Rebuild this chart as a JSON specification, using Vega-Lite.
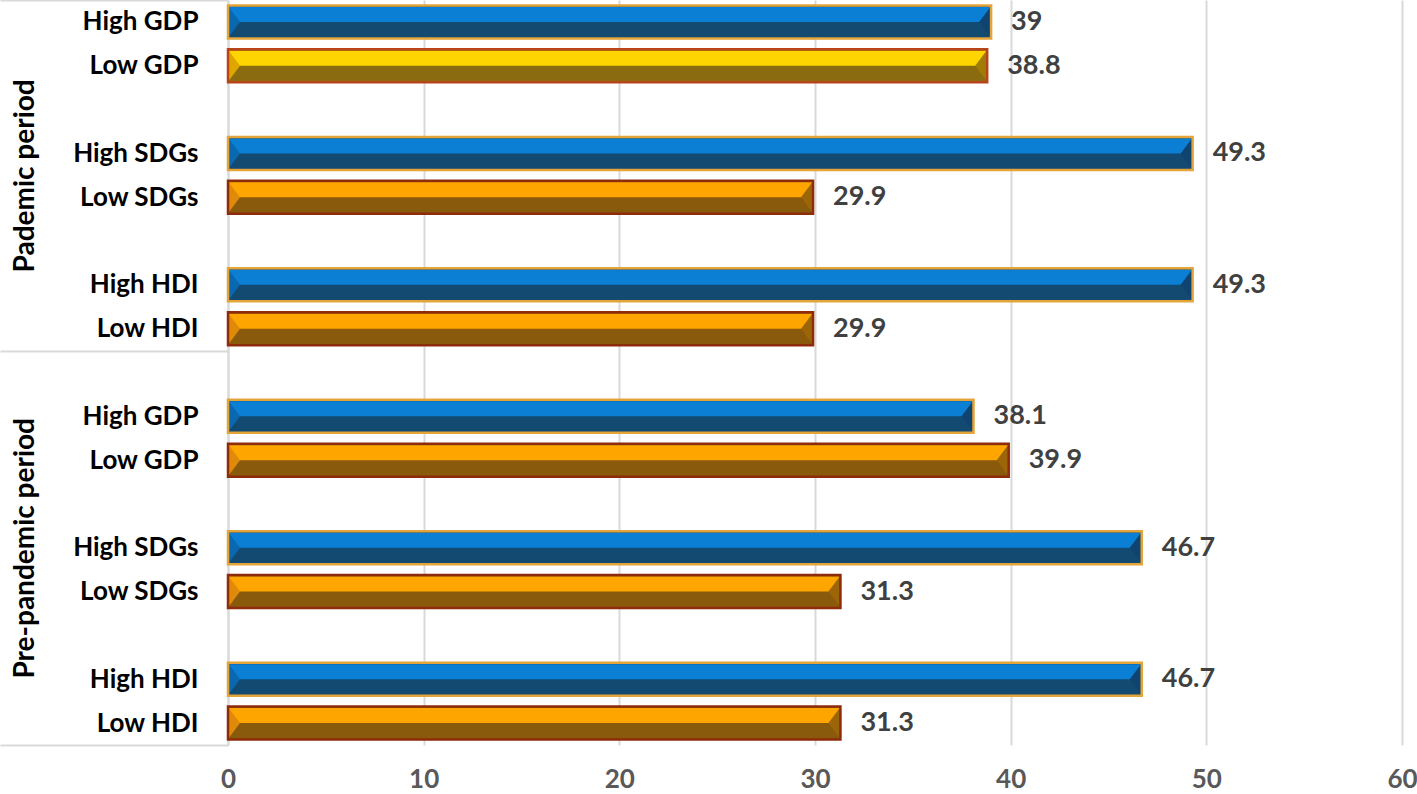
{
  "$schema": "https://vega.github.io/schema/vega-lite/v6.json",
  "width": 1174,
  "height": 745,
  "autosize": {"type": "none"},
  "padding": {"left": 228, "top": 0, "right": 15, "bottom": 49},
  "background": "white",
  "config": {"view": {"stroke": null}, "font": "Lato"},
  "data": {
    "values": [
      {"period": "Pademic period", "indicator": "GDP", "level": "High", "slot": "01|High GDP", "value": 39},
      {"period": "Pademic period", "indicator": "GDP", "level": "Low", "slot": "02|Low GDP", "value": 38.8},
      {"period": "Pademic period", "indicator": "SDGs", "level": "High", "slot": "04|High SDGs", "value": 49.3},
      {"period": "Pademic period", "indicator": "SDGs", "level": "Low", "slot": "05|Low SDGs", "value": 29.9},
      {"period": "Pademic period", "indicator": "HDI", "level": "High", "slot": "07|High HDI", "value": 49.3},
      {"period": "Pademic period", "indicator": "HDI", "level": "Low", "slot": "08|Low HDI", "value": 29.9},
      {"period": "Pre-pandemic period", "indicator": "GDP", "level": "High", "slot": "10|High GDP", "value": 38.1},
      {"period": "Pre-pandemic period", "indicator": "GDP", "level": "Low", "slot": "11|Low GDP", "value": 39.9},
      {"period": "Pre-pandemic period", "indicator": "SDGs", "level": "High", "slot": "13|High SDGs", "value": 46.7},
      {"period": "Pre-pandemic period", "indicator": "SDGs", "level": "Low", "slot": "14|Low SDGs", "value": 31.3},
      {"period": "Pre-pandemic period", "indicator": "HDI", "level": "High", "slot": "16|High HDI", "value": 46.7},
      {"period": "Pre-pandemic period", "indicator": "HDI", "level": "Low", "slot": "17|Low HDI", "value": 31.3}
    ]
  },
  "resolve": {"scale": {"y": "independent"}, "axis": {"y": "independent"}},
  "layer": [
    {
      "layer": [
        {
          "mark": {"type": "bar", "height": 33},
          "encoding": {
            "x": {
              "field": "value", "type": "quantitative",
              "scale": {"domain": [0, 60], "nice": false},
              "axis": {
                "title": null, "orient": "bottom", "values": [0, 10, 20, 30, 40, 50, 60],
                "grid": true, "gridColor": "#d9d9d9", "gridWidth": 2,
                "domain": false, "ticks": false,
                "labelFont": "Lato", "labelFontSize": 26, "labelFontWeight": "bold", "labelColor": "#595959",
                "labelPadding": 21, "labelFlush": false, "labelOverlap": false, "labelBound": false
              }
            },
            "y": {
              "field": "slot", "type": "nominal",
              "scale": {"domain": ["01|High GDP", "02|Low GDP", "03|", "04|High SDGs", "05|Low SDGs", "06|", "07|High HDI", "08|Low HDI", "09|", "10|High GDP", "11|Low GDP", "12|", "13|High SDGs", "14|Low SDGs", "15|", "16|High HDI", "17|Low HDI"], "paddingInner": 0, "paddingOuter": 0},
              "axis": {
                "title": null, "orient": "left",
                "labelExpr": "split(datum.value, '|')[1]",
                "labelFont": "Lato", "labelFontSize": 26, "labelFontWeight": "bold", "labelColor": "#000000",
                "labelPadding": -198, "labelLimit": 400, "labelOverlap": false, "labelBound": false,
                "domain": true, "domainColor": "#d9d9d9", "domainWidth": 2,
                "ticks": true, "tickBand": "extent", "tickSize": 228, "tickWidth": 2,
                "tickColor": {"condition": {"test": "datum.index === -1 || datum.value === '08|Low HDI' || datum.value === '17|Low HDI'", "value": "#d9d9d9"}, "value": "rgba(0,0,0,0)"},
                "grid": false
              }
            },
            "fill": {
              "condition": [
                {"test": "datum.period === 'Pademic period' && datum.level === 'Low' && datum.indicator === 'GDP'", "value": "#8b6b10"},
                {"test": "datum.level === 'High'", "value": "#134a72"}
              ],
              "value": "#8a5a0c"
            }
          }
        },
        {
          "mark": {"type": "bar", "height": 15, "yOffset": -7.5},
          "encoding": {
            "x": {"field": "value", "type": "quantitative"},
            "y": {"field": "slot", "type": "nominal"},
            "fill": {
              "condition": [
                {"test": "datum.period === 'Pademic period' && datum.level === 'Low' && datum.indicator === 'GDP'", "value": "#ffd500"},
                {"test": "datum.level === 'High'", "value": "#0b7fd4"}
              ],
              "value": "#ffa500"
            }
          }
        },
        {
          "mark": {"type": "point", "filled": true, "shape": "M0,-1L0.75,0L0,1Z", "size": 1024, "opacity": 1, "strokeWidth": 0},
          "encoding": {
            "x": {"datum": 0, "type": "quantitative"},
            "y": {"field": "slot", "type": "nominal"},
            "fill": {
              "condition": [
                {"test": "datum.period === 'Pademic period' && datum.level === 'Low' && datum.indicator === 'GDP'", "value": "#e0a600"},
                {"test": "datum.level === 'High'", "value": "#0a68b0"}
              ],
              "value": "#e08a0a"
            }
          }
        },
        {
          "mark": {"type": "point", "filled": true, "shape": "M0,-1L-0.75,0L0,1Z", "size": 1024, "opacity": 1, "strokeWidth": 0},
          "encoding": {
            "x": {"field": "value", "type": "quantitative"},
            "y": {"field": "slot", "type": "nominal"},
            "fill": {
              "condition": [
                {"test": "datum.period === 'Pademic period' && datum.level === 'Low' && datum.indicator === 'GDP'", "value": "#a07c06"},
                {"test": "datum.level === 'High'", "value": "#0f4470"}
              ],
              "value": "#9c6508"
            }
          }
        },
        {
          "mark": {"type": "bar", "height": 33, "fillOpacity": 0, "strokeWidth": 2.5},
          "encoding": {
            "x": {"field": "value", "type": "quantitative"},
            "y": {"field": "slot", "type": "nominal"},
            "stroke": {
              "condition": [
                {"test": "datum.period === 'Pademic period' && datum.level === 'Low' && datum.indicator === 'GDP'", "value": "#b8441a"},
                {"test": "datum.level === 'High'", "value": "#e3a43a"}
              ],
              "value": "#8e2b0b"
            }
          }
        }
      ]
    },
    {
      "mark": {"type": "text", "align": "left", "baseline": "middle", "dx": 20, "font": "Lato", "fontSize": 27, "fontWeight": "bold", "fill": "#404040"},
      "encoding": {
        "x": {"field": "value", "type": "quantitative"},
        "y": {
          "field": "slot", "type": "nominal",
          "scale": {"domain": ["01|High GDP", "02|Low GDP", "03|", "04|High SDGs", "05|Low SDGs", "06|", "07|High HDI", "08|Low HDI", "09|", "10|High GDP", "11|Low GDP", "12|", "13|High SDGs", "14|Low SDGs", "15|", "16|High HDI", "17|Low HDI"], "paddingInner": 0, "paddingOuter": 0},
          "axis": {
            "title": null, "orient": "left",
            "labelExpr": "datum.value === '04|High SDGs' ? 'Pademic period' : (datum.value === '13|High SDGs' ? 'Pre-pandemic period' : '')",
            "labelAngle": -90, "labelAlign": "center", "labelBaseline": "middle",
            "labelPadding": 203,
            "labelOffset": {"condition": {"test": "datum.value === '04|High SDGs'", "value": 22}, "value": 0},
            "labelFont": "Lato", "labelFontSize": 28, "labelFontWeight": "bold", "labelColor": "#000000",
            "labelLimit": 600, "labelOverlap": false, "labelBound": false,
            "ticks": false, "domain": false, "grid": false
          }
        },
        "text": {"field": "value", "type": "quantitative", "format": ".1~f"}
      }
    }
  ]
}
